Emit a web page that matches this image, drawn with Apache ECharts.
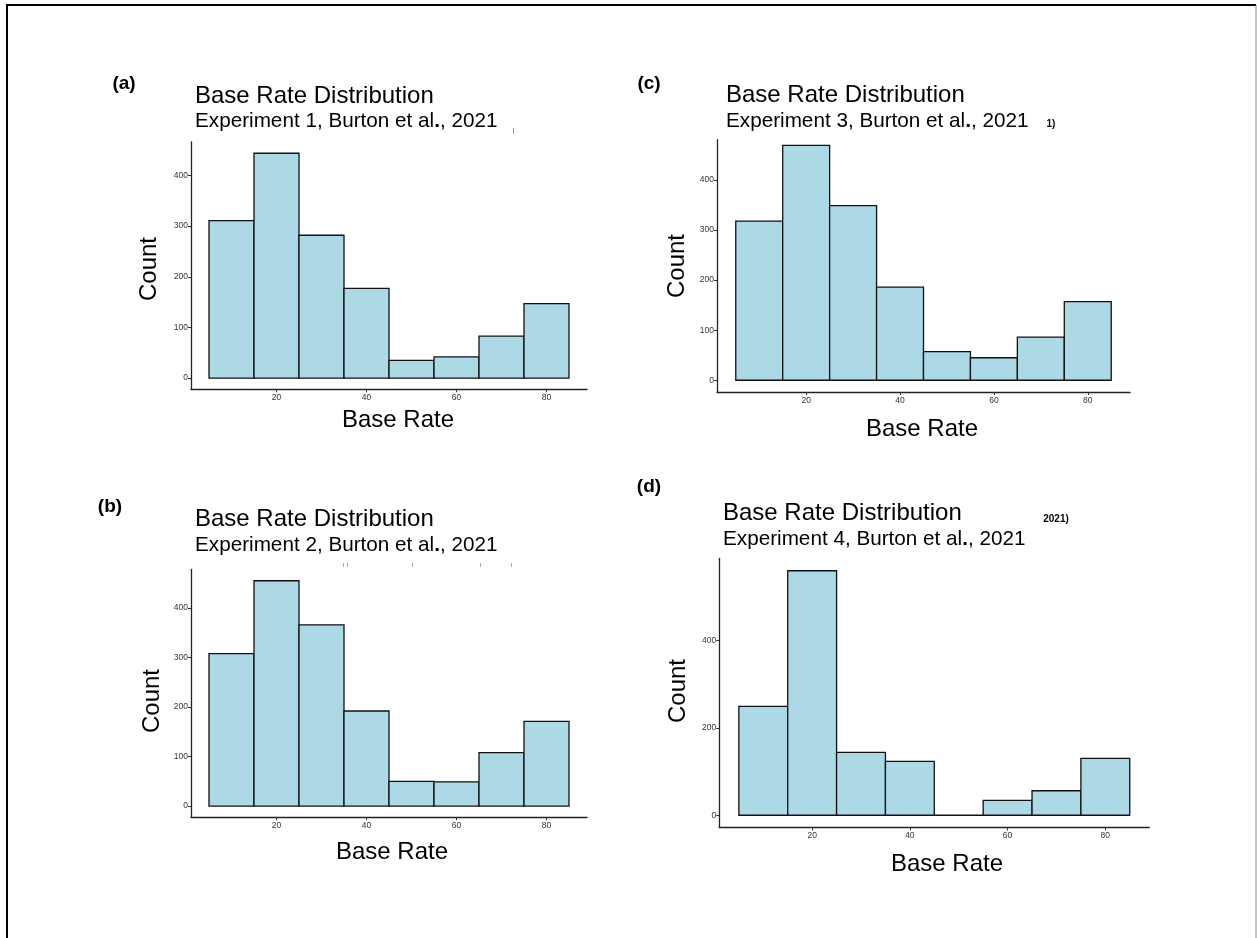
<!DOCTYPE html>
<html>
<head>
<meta charset="utf-8">
<script src="https://cdn.jsdelivr.net/npm/echarts@6/dist/echarts.min.js"></script>
<style>
html,body{margin:0;padding:0;background:#fff;}
#chart{width:1257px;height:938px;}
</style>
</head>
<body>
<div id="chart"></div>
<script>
// ---- data ----
var binEdges = [5, 15, 25, 35, 45, 55, 65, 75, 85];
var countsExp1 = [311, 444, 282, 177, 35, 42, 83, 147];
var countsExp2 = [308, 455, 366, 192, 50, 49, 108, 171];
var countsExp3 = [318, 469, 349, 186, 57, 45, 86, 157];
var countsExp4 = [249, 559, 144, 123, 0, 34, 56, 130];
var xTicks = [20, 40, 60, 80];
var yTicks100 = [0, 100, 200, 300, 400];
var yTicks200 = [0, 200, 400];
var panelLetters = ['(a)', '(b)', '(c)', '(d)'];
var titleText = 'Base Rate Distribution';
var experimentNames = ['Experiment 1', 'Experiment 2', 'Experiment 3', 'Experiment 4'];
var citation = ['Burton et al', '.', ', 2021'];
var xName = 'Base Rate';
var yName = 'Count';

// ---- layout ----
var FONT = '"Liberation Sans", Arial, Helvetica, sans-serif';
var panels = [
  {counts: countsExp1, yTicks: yTicks100, grid: {left: 191, top: 142, width: 396, height: 247.3},
   letter: [124, 84], title: [195, 96], sub: [195, 121], yLab: [149, 269], xLab: [398, 420]},
  {counts: countsExp2, yTicks: yTicks100, grid: {left: 191, top: 569.5, width: 396, height: 247.8},
   letter: [110, 507], title: [195, 519], sub: [195, 545], yLab: [152, 701], xLab: [392, 852]},
  {counts: countsExp3, yTicks: yTicks100, topCut: 480.5, grid: {left: 717, top: 139.7, width: 413, height: 252.3},
   letter: [649, 84], title: [726, 95], sub: [726, 121], yLab: [677, 266], xLab: [922, 429]},
  {counts: countsExp4, yTicks: yTicks200, grid: {left: 719.3, top: 558.5, width: 430, height: 269},
   letter: [649, 487], title: [723, 513], sub: [723, 539], yLab: [678, 691], xLab: [947, 864]}
];

function binData(counts) {
  var out = [];
  for (var i = 0; i < counts.length; i++) out.push([binEdges[i], binEdges[i + 1], counts[i]]);
  return out;
}

function renderBar(params, api) {
  var p0 = api.coord([api.value(0), 0]);
  var p1 = api.coord([api.value(1), api.value(2)]);
  return {
    type: 'rect',
    shape: {x: p0[0], y: p1[1], width: p1[0] - p0[0], height: p0[1] - p1[1]},
    style: {fill: '#ADD8E6', stroke: '#111', lineWidth: 1.3}
  };
}

var grids = [], xAxes = [], yAxes = [], series = [], graphics = [];
var axisLineStyle = {color: '#222', width: 1.3};
var tickLabel = {fontSize: 8.5, color: '#333', fontFamily: FONT};
panels.forEach(function (p, i) {
  var peak = Math.max.apply(null, p.counts);
  var span = binEdges[binEdges.length - 1] - binEdges[0];
  grids.push(p.grid);
  xAxes.push({
    type: 'value', gridIndex: i, min: binEdges[0] - 0.05 * span, max: binEdges[binEdges.length - 1] + 0.05 * span,
    axisLine: {show: true, onZero: false, lineStyle: axisLineStyle},
    axisTick: {show: true, customValues: xTicks, length: 3, lineStyle: {color: '#333', width: 1}},
    axisLabel: Object.assign({customValues: xTicks, margin: 4}, tickLabel),
    splitLine: {show: false}
  });
  yAxes.push({
    type: 'value', gridIndex: i, min: -0.05 * peak, max: p.topCut || 1.05 * peak,
    axisLine: {show: true, onZero: false, lineStyle: axisLineStyle},
    axisTick: {show: true, customValues: p.yTicks, length: 3, lineStyle: {color: '#333', width: 1}},
    axisLabel: Object.assign({customValues: p.yTicks, margin: 3}, tickLabel),
    splitLine: {show: false}
  });
  series.push({
    type: 'custom', xAxisIndex: i, yAxisIndex: i,
    data: binData(p.counts), encode: {x: [0, 1], y: 2},
    renderItem: renderBar, silent: true, clip: false
  });
  graphics.push({type: 'text', x: p.letter[0], y: p.letter[1],
    style: {text: panelLetters[i], fontSize: 19, fontWeight: 'bold', fontFamily: FONT, fill: '#000', align: 'center', verticalAlign: 'middle'}});
  graphics.push({type: 'text', x: p.title[0], y: p.title[1],
    style: {text: titleText, fontSize: 24, fontFamily: FONT, fill: '#000', align: 'left', verticalAlign: 'middle'}});
  graphics.push({type: 'text', x: p.sub[0], y: p.sub[1],
    style: {
      text: '{n|' + experimentNames[i] + ', ' + citation[0] + '}{b|' + citation[1] + '}{n|' + citation[2] + '}',
      align: 'left', verticalAlign: 'middle',
      rich: {
        n: {fontSize: 20.7, fontFamily: FONT, fill: '#000'},
        b: {fontSize: 20.7, fontFamily: FONT, fontWeight: 'bold', fill: '#000'}
      }
    }});
  graphics.push({type: 'text', x: p.yLab[0], y: p.yLab[1], rotation: Math.PI / 2,
    style: {text: yName, fontSize: 24, fontFamily: FONT, fill: '#000', align: 'center', verticalAlign: 'middle'}});
  graphics.push({type: 'text', x: p.xLab[0], y: p.xLab[1],
    style: {text: xName, fontSize: 24, fontFamily: FONT, fill: '#000', align: 'center', verticalAlign: 'middle'}});
});

// cropped fragments visible in the original figure
graphics.push({type: 'text', x: 1051, y: 124,
  style: {text: '1)', fontSize: 10, fontWeight: 'bold', fontFamily: FONT, fill: '#000', align: 'center', verticalAlign: 'middle'}});
graphics.push({type: 'text', x: 1056, y: 519,
  style: {text: '2021)', fontSize: 10, fontWeight: 'bold', fontFamily: FONT, fill: '#000', align: 'center', verticalAlign: 'middle'}});
graphics.push({type: 'line', shape: {x1: 513.5, y1: 128, x2: 513.5, y2: 134}, style: {stroke: '#999', lineWidth: 1}});
[343, 347, 412, 480, 511].forEach(function (x) {
  graphics.push({type: 'line', shape: {x1: x + 0.5, y1: 563, x2: x + 0.5, y2: 567}, style: {stroke: '#aaa', lineWidth: 1}});
});

// outer frame
graphics.push({type: 'line', shape: {x1: 7, y1: 5, x2: 1256, y2: 5}, style: {stroke: '#000', lineWidth: 2}});
graphics.push({type: 'line', shape: {x1: 7, y1: 4, x2: 7, y2: 938}, style: {stroke: '#000', lineWidth: 2}});
graphics.push({type: 'line', shape: {x1: 1256, y1: 5, x2: 1256, y2: 938}, style: {stroke: '#888', lineWidth: 1}});

var chart = echarts.init(document.getElementById('chart'), null, {renderer: 'canvas'});
chart.setOption({
  animation: false,
  backgroundColor: '#fff',
  grid: grids,
  xAxis: xAxes,
  yAxis: yAxes,
  series: series,
  graphic: graphics
});
</script>
</body>
</html>
